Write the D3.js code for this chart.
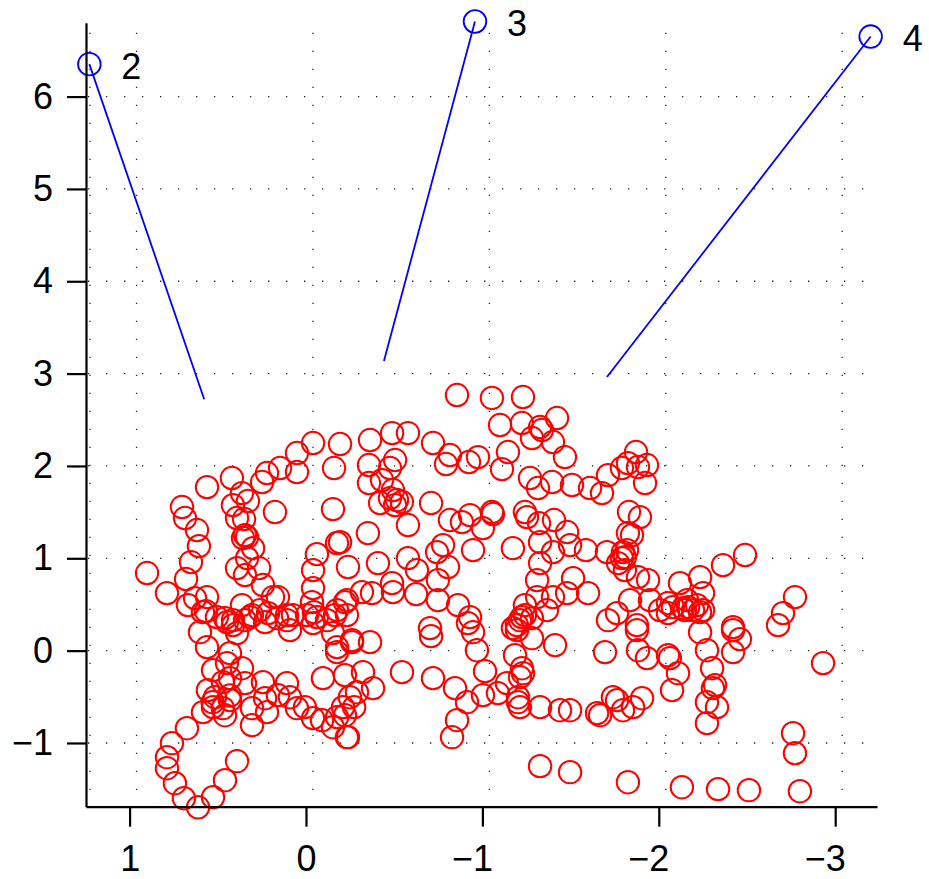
<!DOCTYPE html>
<html><head><meta charset="utf-8">
<script src="https://cdn.jsdelivr.net/npm/d3@7"></script>
<style>
  body { margin: 0; background: #fff; }
  text { font-family: "Liberation Sans", Arial, Helvetica, sans-serif; }
</style>
</head><body>
<svg id="chart" width="929" height="879"></svg>
<script>
// Axis ticks
const xTicks = [1, 0, -1, -2, -3];
const yTicks = [-1, 0, 1, 2, 3, 4, 5, 6];

// Sample cloud (red rings)
const sampleX = [
  -0.856,-1.054,-1.230,-1.423,-1.100,-1.224,-1.327,-1.338,-1.281,-1.400,
  -1.468,-1.145,-1.111,-0.975,-0.924,-0.816,-0.794,-0.720,-0.578,-0.488,
  -0.363,-0.193,-0.357,-0.476,-0.505,-0.431,-0.357,-0.493,-0.476,-0.516,
  -0.544,-0.505,-0.420,-0.578,-0.709,-0.816,-0.884,-0.930,-1.003,-1.054,
  -1.060,-0.351,-0.193,-0.238,-0.408,-0.578,-0.629,-0.743,-0.777,-0.805,
  -0.748,-0.947,-0.488,-0.493,-0.374,-0.317,-0.232,-0.624,-0.748,-0.862,
  -0.930,-0.918,-0.703,-1.173,-1.241,-1.253,-1.321,-1.406,-1.480,-1.327,
  -1.400,-1.497,-1.587,-1.706,-1.808,-1.820,-1.327,-1.310,-1.310,-1.400,
  -1.514,-1.480,-1.599,-1.366,-1.241,-1.224,-1.196,-1.281,-1.270,-1.315,
  -1.395,-1.508,-1.610,-1.678,-1.712,-1.791,
  -1.871,-1.825,-1.933,-1.882,-1.922,-1.831,-1.893,-1.825,-1.848,-1.797,
  -1.791,-1.769,-1.808,-1.882,-1.939,-1.950,-1.837,-1.763,-1.876,
  -2.364,-2.489,-2.120,-2.234,-2.251,-2.052,-2.160,-2.137,-2.166,-2.194,
  -2.217,-2.234,-2.251,-2.052,-2.421,-2.676,-2.704,-2.772,
  0.561,0.420,0.363,0.414,0.329,0.391,0.351,0.346,0.357,0.334,
  0.300,0.334,0.266,0.391,0.346,0.244,0.187,0.159,
  0.703,0.686,0.618,0.607,0.652,0.680,0.629,0.561,0.567,0.901,
  0.788,0.363,0.317,0.459,0.414,0.261,0.108,
  -0.040,0.051,0.051,0.147,0.221,0.249,-0.159,0.176,-0.153,-0.176,
  -0.062,-0.040,-0.040,-0.034,-0.045,-0.221,-0.164,
  0.584,0.601,0.561,0.527,0.431,0.448,0.431,0.363,0.346,0.471,
  0.556,0.516,0.431,0.471,0.527,0.584,0.459,0.306,
  0.244,0.232,0.221,0.159,0.108,0.091,0.051,0.006,-0.040,-0.096,
  -0.091,-0.176,-0.153,-0.232,-0.210,-0.221,-0.249,-0.176,-0.153,-0.176,-0.261,
  0.669,0.505,0.448,0.391,0.414,0.346,0.306,0.232,0.215,0.164,
  0.108,0.091,0.074,-0.006,-0.040,-0.062,-0.119,-0.176,-0.232,
  0.675,0.760,0.788,0.788,0.743,0.692,0.612,0.527,0.459,0.391,
  -0.709,-0.544,-0.720,-0.845,-0.913,-0.856,-0.828,-1.003,-1.015,-0.969,
  -0.947,-1.088,-1.139,-1.202,-1.202,-1.213,-1.213,-1.230,-1.224,-1.185,
  -1.281,-1.196,-1.173,-1.213,-1.241,-1.412,-1.327,-1.440,-1.497,-1.650,
  -1.740,-1.763,-1.797,-1.695,-1.327,-1.497,-1.825,
  -0.323,-0.289,-0.380,-0.221,-0.238,-0.363,-0.261,
  -1.712,-1.876,-1.882,-1.933,-2.052,-2.063,-2.109,-2.075,-1.854,-1.905,
  -1.667,-2.234,-2.273,-2.302,-2.319,-2.307,-2.273,-2.330,-2.273,-2.421,
  -2.460,-2.421,
  -2.931,-2.761,-2.772,-2.131,-2.336,-2.511,-2.800,-2.007,-2.080,-2.148,
  0.431,0.306,0.529,-0.273
];
const sampleY = [
  2.768,2.736,2.746,2.519,2.443,2.465,2.421,2.389,2.302,2.259,
  2.096,2.151,1.966,2.096,2.042,2.118,2.021,2.248,2.356,2.356,
  2.281,2.237,2.010,1.977,2.064,1.847,1.815,1.739,1.652,1.631,
  1.609,1.576,1.598,1.360,1.598,1.414,1.392,1.468,1.327,1.501,
  1.479,1.273,1.175,0.905,0.948,1.002,0.872,1.067,1.143,0.905,
  0.764,1.089,0.731,0.634,0.623,0.634,0.547,0.612,0.547,0.493,
  0.363,0.298,0.244,1.110,1.501,1.446,1.381,1.414,1.284,1.175,
  1.067,1.143,1.089,1.067,1.013,1.089,0.948,0.764,0.580,0.580,
  0.785,0.623,0.623,0.439,0.493,0.363,0.276,0.352,1.869,1.761,
  1.826,1.793,1.761,1.706,1.901,1.977,
  2.151,2.031,2.010,1.988,1.815,1.501,1.446,1.273,1.251,1.067,
  1.002,0.948,0.872,0.796,0.764,0.547,0.547,0.406,0.276,
  0.926,1.035,0.731,0.796,0.623,0.515,0.547,0.460,0.471,0.439,
  0.493,0.417,0.439,0.406,0.255,0.276,0.406,0.580,
  1.771,1.869,1.706,1.576,1.620,1.436,1.425,1.251,1.219,1.230,
  1.110,1.002,0.894,0.894,0.818,0.710,0.580,0.580,
  1.555,1.436,1.306,1.132,0.959,0.775,0.569,0.580,0.428,0.840,
  0.623,0.493,0.363,0.352,0.330,0.439,0.385,
  2.248,2.140,1.934,1.977,1.923,1.826,1.977,1.501,1.533,1.165,
  1.045,0.872,0.677,0.525,0.417,0.525,0.385,
  0.417,0.200,0.038,-0.211,-0.027,-0.135,-0.298,-0.190,-0.352,-0.341,
  -0.428,-0.504,-0.536,-0.623,-0.612,-0.666,-0.699,-0.807,
  -0.341,-0.515,-0.666,-0.482,-0.352,-0.504,-0.623,-0.612,-0.731,-0.298,
  -0.753,-0.720,-0.829,-0.937,-0.612,-0.265,-0.504,-0.016,0.190,0.038,0.114,
  0.493,0.363,0.309,0.190,0.276,0.330,0.385,0.309,0.406,0.352,
  0.330,0.222,0.385,0.385,0.298,0.363,0.330,0.439,0.385,
  -0.840,-1.002,-1.154,-1.273,-1.436,-1.598,-1.696,-1.587,-1.403,-1.197,
  0.157,-0.233,-0.298,-0.406,-0.558,-0.753,-0.937,-0.482,-0.222,0.005,
  0.200,-0.460,-0.352,-0.504,-0.558,-0.612,-0.287,-0.244,-0.190,-0.049,
  0.135,0.222,0.244,0.330,0.385,0.060,-0.612,-0.645,-0.645,-0.677,
  -0.504,-0.536,-0.645,-0.016,-1.251,-1.316,-1.425,
  -0.233,-0.450,-0.406,-0.699,-0.937,0.092,0.092,
  0.330,0.222,0.005,-0.081,-0.049,-0.081,-0.244,-0.428,-0.612,-0.515,
  -0.699,0.200,0.005,-0.190,-0.373,-0.406,-0.558,-0.612,-0.785,0.222,
  0.125,-0.016,
  -0.135,-0.894,-1.110,-1.479,-1.500,-1.511,-1.522,0.439,0.471,0.439,
  -0.486,-0.623,-0.558,-0.612
];

// Labelled markers (blue rings) and the points their leader lines reach
const markerIds = ["2", "3", "4"];
const markerX = [1.228, -0.958, -3.201];
const markerY = [6.351, 6.813, 6.650];
const leaderX = [0.577, -0.442, -1.706];
const leaderY = [2.722, 3.137, 2.963];

const svg = d3.select("#chart");
const fontSize = 36;

const x = d3.scaleLinear().domain([1.247, -3.237]).range([86, 877]);
const y = d3.scaleLinear().domain([-1.69, 6.80]).range([806.7, 22.7]);

// Dotted grid
const grid = svg.append("g")
  .attr("stroke", "#222")
  .attr("stroke-width", 1.3)
  .attr("stroke-dasharray", "1.3,16.7");
grid.selectAll("line.h").data(yTicks).join("line")
  .attr("class", "h")
  .attr("x1", x.range()[0] + 2).attr("x2", x.range()[1] - 4)
  .attr("y1", d => y(d)).attr("y2", d => y(d));
grid.selectAll("line.v").data(xTicks).join("line")
  .attr("class", "v")
  .attr("x1", d => x(d) + 7).attr("x2", d => x(d) + 7)
  .attr("y1", y.range()[1] + 10).attr("y2", y.range()[0]);
grid.append("line")
  .attr("x1", x.range()[0] + 4).attr("x2", x.range()[0] + 4)
  .attr("y1", y.range()[1] + 10).attr("y2", y.range()[0]);

// Leader lines
svg.append("g").selectAll("line").data(markerIds).join("line")
  .attr("x1", (d, i) => x(markerX[i])).attr("y1", (d, i) => y(markerY[i]))
  .attr("x2", (d, i) => x(leaderX[i])).attr("y2", (d, i) => y(leaderY[i]))
  .attr("stroke", "#0000ff").attr("stroke-width", 1.8);

// Red rings
svg.append("g").selectAll("circle").data(sampleX).join("circle")
  .attr("cx", d => x(d))
  .attr("cy", (d, i) => y(sampleY[i]))
  .attr("r", 11.2)
  .attr("fill", "none")
  .attr("stroke", "#ff0000")
  .attr("stroke-width", 2);

// Blue rings with labels
const mk = svg.append("g");
mk.selectAll("circle").data(markerIds).join("circle")
  .attr("cx", (d, i) => x(markerX[i])).attr("cy", (d, i) => y(markerY[i]))
  .attr("r", 11.3)
  .attr("fill", "none").attr("stroke", "#0000ff").attr("stroke-width", 1.8);
mk.selectAll("text").data(markerIds).join("text")
  .attr("x", (d, i) => x(markerX[i]) + 32)
  .attr("y", (d, i) => y(markerY[i]) + 14.5)
  .attr("font-size", fontSize)
  .attr("fill", "#000")
  .text(d => d);

// Axes
const fmt = d3.format("d");
const yAxis = svg.append("g")
  .attr("transform", `translate(${x.range()[0]},0)`)
  .call(d3.axisLeft(y).tickValues(yTicks).tickFormat(fmt).tickSizeInner(19).tickSizeOuter(0).tickPadding(14));
const xAxis = svg.append("g")
  .attr("transform", `translate(0,${y.range()[0]})`)
  .call(d3.axisBottom(x).tickValues(xTicks).tickFormat(fmt).tickSizeInner(20).tickSizeOuter(0).tickPadding(19));

[yAxis, xAxis].forEach(g => {
  g.select(".domain").attr("stroke", "#000").attr("stroke-width", 2.2);
  g.selectAll(".tick line").attr("stroke", "#000").attr("stroke-width", 2.2);
  g.selectAll(".tick text")
    .attr("font-size", fontSize)
    .attr("fill", "#000")
    .attr("font-family", '"Liberation Sans", Arial, sans-serif');
});
// Digits sit centred under the tick, a minus sign hangs to their left
xAxis.selectAll(".tick text").attr("text-anchor", "end").attr("dx", "0.28em");
</script>
</body></html>
